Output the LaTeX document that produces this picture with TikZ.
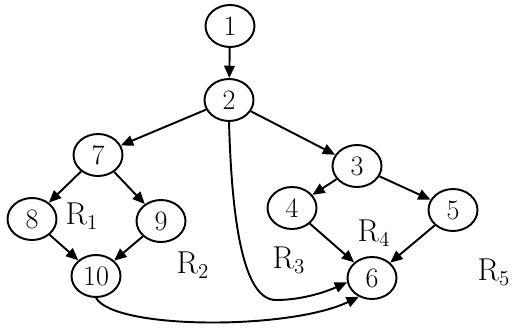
\documentclass[tikz,border=0pt]{standalone}
\usetikzlibrary{shapes.geometric,arrows.meta}
\begin{document}
\begin{tikzpicture}[x=0.02cm,y=-0.02cm,
  vtx/.style={ellipse,draw,line width=1.1pt,minimum width=0.98cm,minimum height=0.84cm,inner sep=0pt,font=\fontsize{16}{18}\selectfont},
  edge/.style={line width=1.1pt,-{Triangle[length=7pt,width=6pt]}},
  reg/.style={font=\fontsize{18}{20}\selectfont}]
\useasboundingbox (0,0) rectangle (519,328);
\node[vtx] (n1) at (230,26) {1};
\node[vtx] (n2) at (229,100) {2};
\node[vtx] (n7) at (98,155) {7};
\node[vtx] (n3) at (357,166) {3};
\node[vtx] (n8) at (32,219) {8};
\node[vtx] (n9) at (161,221) {9};
\node[vtx] (n10) at (96,276) {10};
\node[vtx] (n4) at (292,208) {4};
\node[vtx] (n5) at (453,210) {5};
\node[vtx] (n6) at (372,278) {6};
\node[reg] (r1) at (82,216) {R$_1$};
\node[reg] (r2) at (193,265) {R$_2$};
\node[reg] (r3) at (289,260) {R$_3$};
\node[reg] (r4) at (374,233) {R$_4$};
\node[reg] (r5) at (494,272) {R$_5$};
\draw[edge] (n1) -- (n2);
\draw[edge] (n2) -- (n7);
\draw[edge] (n2) -- (n3);
\draw[edge] (n7) -- (n8);
\draw[edge] (n7) -- (n9);
\draw[edge] (n8) -- (n10);
\draw[edge] (n9) -- (n10);
\draw[edge] (n3) -- (n4);
\draw[edge] (n3) -- (n5);
\draw[edge] (n4) -- (n6);
\draw[edge] (n5) -- (n6);
\draw[edge] (n2.south) .. controls (232,230) and (245,300) .. (276,300) .. controls (305,300) and (330,290) .. (n6.190);
\draw[edge] (n10.south) .. controls (115,330) and (290,330) .. (n6.235);
\end{tikzpicture}
\end{document}
